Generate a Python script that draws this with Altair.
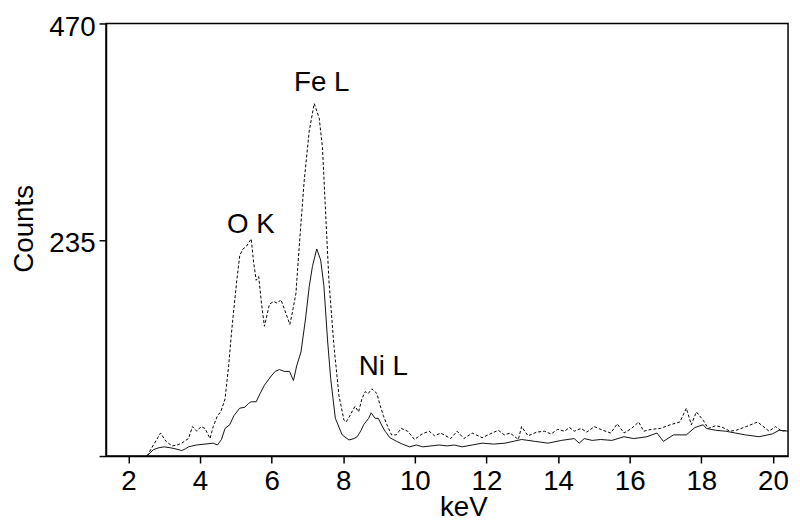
import altair as alt
import pandas as pd

# Dashed spectrum (upper)
dash_kev = [2.52, 2.70, 2.90, 3.05, 3.22, 3.36, 3.49, 3.60, 3.68, 3.79, 3.91, 4.03, 4.14, 4.28, 4.37,
            4.49, 4.58, 4.70, 4.80, 4.88, 4.96, 5.02, 5.11, 5.20, 5.30, 5.43, 5.50, 5.57, 5.64, 5.72,
            5.80, 5.94, 6.06, 6.16, 6.26, 6.40, 6.51, 6.60, 6.68, 6.77, 6.91, 7.05, 7.19, 7.33, 7.42,
            7.51, 7.60, 7.74, 7.88, 8.02, 8.08, 8.16, 8.27, 8.33, 8.43, 8.52, 8.61, 8.70, 8.80, 8.94,
            9.03, 9.12, 9.22, 9.35, 9.48, 9.62, 9.80, 9.99, 10.20, 10.40, 10.55, 10.72, 11.00, 11.18,
            11.37, 11.60, 11.88, 12.10, 12.33, 12.50, 12.66, 12.89, 12.98, 13.16, 13.40, 13.62, 13.80,
            13.99, 14.18, 14.32, 14.45, 14.64, 14.80, 15.01, 15.25, 15.47, 15.65, 15.84, 16.05, 16.25,
            16.39, 16.60, 16.85, 17.13, 17.40, 17.58, 17.72, 17.86, 18.05, 18.19, 18.40, 18.60, 18.80,
            18.97, 19.25, 19.57, 19.89, 20.07, 20.25, 20.40]
dash_cnt = [0, 12, 25, 16, 11, 12, 14, 17, 19, 32, 27, 32, 30, 19, 32,
            44, 48, 62, 98, 134, 165, 188, 218, 225, 228, 236, 210, 191, 195, 165,
            141, 165, 168, 166, 170, 155, 143, 160, 177, 227, 299, 353, 383, 367, 335,
            263, 191, 120, 66, 39, 37, 42, 50, 54, 48, 62, 70, 68, 73, 68,
            55, 44, 34, 23, 23, 30, 27, 18, 24, 27, 22, 25, 19, 27,
            19, 25, 20, 24, 28, 23, 25, 18, 32, 22, 26, 27, 24,
            29, 27, 31, 27, 30, 26, 32, 28, 25, 35, 25, 30, 37,
            27, 29, 30, 34, 37, 52, 34, 48, 39, 30, 33, 31, 27,
            28, 32, 37, 27, 32, 27, 28]

# Solid spectrum (lower)
solid_kev = [2.52, 2.70, 2.85, 3.00, 3.17, 3.30, 3.49, 3.60, 3.68, 3.90, 4.14, 4.37, 4.49, 4.60,
             4.70, 4.83, 4.95, 5.11, 5.25, 5.35, 5.43, 5.57, 5.68, 5.80, 5.99, 6.10, 6.22, 6.35,
             6.50, 6.61, 6.70, 6.82, 6.95, 7.05, 7.14, 7.26, 7.37, 7.46, 7.56, 7.65, 7.78, 7.97,
             8.16, 8.30, 8.39, 8.50, 8.57, 8.65, 8.71, 8.78, 8.89, 8.98, 9.08, 9.17, 9.30, 9.49,
             9.65, 9.85, 10.04, 10.22, 10.45, 10.68, 10.90, 11.10, 11.32, 11.60, 11.88, 12.20,
             12.52, 12.75, 12.98, 13.35, 13.72, 14.09, 14.45, 14.59, 14.73, 14.95, 15.19, 15.50,
             15.84, 16.11, 16.48, 16.76, 16.94, 17.22, 17.58, 17.82, 18.05, 18.14, 18.40, 18.68,
             18.95, 19.23, 19.61, 19.98, 20.17, 20.44]
solid_cnt = [0, 7, 9, 10, 9, 8, 6, 8, 10, 12, 13, 14, 12, 18,
             30, 34, 44, 52, 53, 57, 59, 59, 68, 77, 87, 92, 94, 92,
             92, 82, 98, 113, 150, 184, 206, 225, 213, 185, 127, 84, 41, 23,
             17.5, 19, 21, 28, 34, 38, 41, 47, 41, 41, 33, 27, 20, 16,
             13, 10, 12, 10, 11, 12, 11, 12, 10, 12, 14, 13,
             14, 16, 18, 16, 14, 17, 19, 14, 19, 17, 18, 17,
             21, 19, 21, 25, 16, 23, 23, 31, 34, 30, 28, 27,
             25, 23, 21, 24, 28, 27]

# Peak labels
label_text = ["Fe L", "O K", "Ni L"]
label_kev = [7.40, 5.42, 9.12]
label_cnt = [397, 242, 88.5]

y_ticks = [0, 235, 470]
x_ticks = [2, 4, 6, 8, 10, 12, 14, 16, 18, 20]

dash_df = pd.DataFrame({"keV": dash_kev, "Counts": dash_cnt})
solid_df = pd.DataFrame({"keV": solid_kev, "Counts": solid_cnt})
label_df = pd.DataFrame({"label": label_text, "keV": label_kev, "Counts": label_cnt})

FONT = "Liberation Sans"

x_enc = alt.X("keV:Q",
              scale=alt.Scale(domain=[1.376, 20.42], nice=False, zero=False),
              axis=alt.Axis(values=x_ticks, title="keV", grid=False, tickSize=7,
                            labelPadding=5, labelFlush=False, labelFontSize=28,
                            titleFontSize=28, titleX=361, titleY=60,
                            titleBaseline="alphabetic", titleAlign="center"))
y_enc = alt.Y("Counts:Q",
              scale=alt.Scale(domain=[0, 470], nice=False),
              axis=alt.Axis(values=y_ticks, title="Counts", grid=False, tickSize=7,
                            labelPadding=4, labelFlush=False, labelFontSize=28,
                            labelBaseline="alphabetic", labelOffset=12,
                            labelExpr="datum.value == 0 ? '' : datum.label",
                            titleFontSize=28, titleAngle=270, titleX=-74, titleY=207,
                            titleBaseline="alphabetic", titleAlign="center"))

dashed = alt.Chart(dash_df).mark_line(color="black", strokeWidth=1, strokeDash=[3, 2], clip=True).encode(
    x=x_enc, y=y_enc)
solid = alt.Chart(solid_df).mark_line(color="#111111", strokeWidth=1, clip=True).encode(
    x="keV:Q", y="Counts:Q")
labels = alt.Chart(label_df).mark_text(align="center", baseline="alphabetic", fontSize=28,
                                       font=FONT, color="black").encode(
    x="keV:Q", y="Counts:Q", text="label:N")

chart = alt.layer(dashed, solid, labels).properties(
    width=689, height=437,
    padding={"left": 99, "top": 13, "right": 4, "bottom": 65},
    autosize="none",
).configure_view(stroke="black", strokeWidth=1.5).configure_axis(
    labelFont=FONT, titleFont=FONT, labelColor="black", titleColor="black",
    domainColor="black", tickColor="black", domainWidth=1.5, tickWidth=1.5,
    titleFontWeight="normal",
)

chart.save("out.html", embed_options={"renderer": "svg", "actions": False})
